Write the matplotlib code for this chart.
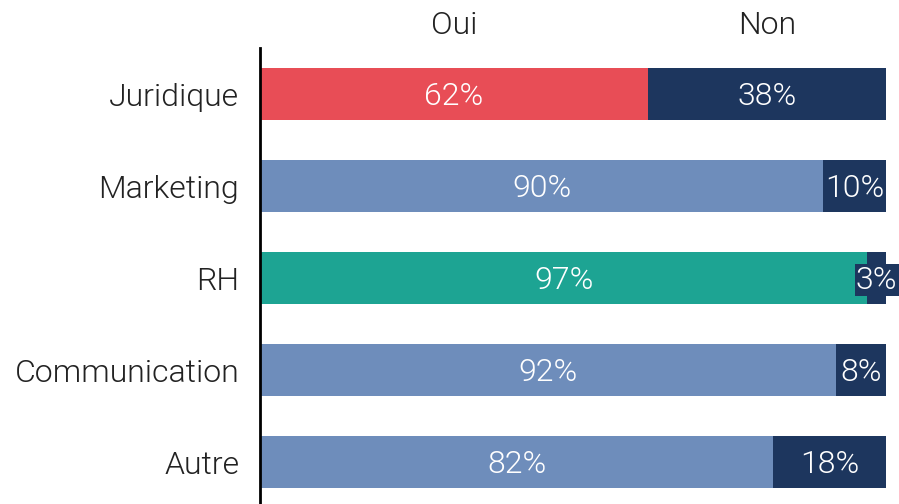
import matplotlib.pyplot as plt

# donnees
categories = ["Juridique", "Marketing", "RH", "Communication", "Autre"]
oui = [62, 90, 97, 92, 82]
non = [38, 10, 3, 8, 18]
oui_colors = ["#E84D56", "#6E8DBB", "#1DA493", "#6E8DBB", "#6E8DBB"]
navy = "#1D365E"

plt.rcParams["font.family"] = ["Roboto", "DejaVu Sans"]
plt.rcParams["font.weight"] = 300
fs = 23

fig = plt.figure(figsize=(8.99, 5.04), dpi=100)
ax = fig.add_axes([260 / 899, 0, 626 / 899, 456 / 504])

y = list(range(len(categories)))
h = 52 / 92
ax.barh(y, oui, height=h, color=oui_colors)
ax.barh(y, non, left=oui, height=h, color=navy)

dy = 0.022  # petit decalage vertical des etiquettes
for i in y:
    ax.text(oui[i] / 2, i + dy, f"{oui[i]}%", ha="center", va="center",
            color="white", fontsize=fs, fontweight=300)
    ax.text(oui[i] + non[i] / 2, i + dy, f"{non[i]}%", ha="center", va="center",
            color="white", fontsize=fs, fontweight=300,
            bbox=dict(boxstyle="square,pad=0.04", fc=navy, ec="none"))

# en-tetes
ax.text(oui[0] / 2, -0.5 - 23 / 92, "Oui", ha="center", va="center",
        fontsize=fs, fontweight=300, color="#222222", clip_on=False)
ax.text(oui[0] + non[0] / 2, -0.5 - 23 / 92, "Non", ha="center", va="center",
        fontsize=fs, fontweight=300, color="#222222", clip_on=False)

ax.set_xlim(0, 100)
ax.set_ylim(4 + 42 / 92, -0.5)
ax.set_yticks(y)
ax.set_yticklabels(categories, fontsize=fs, fontweight=300, color="#222222")
ax.tick_params(axis="y", length=0, pad=15)
ax.set_xticks([])
for s in ["top", "right", "bottom"]:
    ax.spines[s].set_visible(False)
ax.spines["left"].set_linewidth(2)
ax.spines["left"].set_color("black")

fig.savefig("out.png", dpi=100)
